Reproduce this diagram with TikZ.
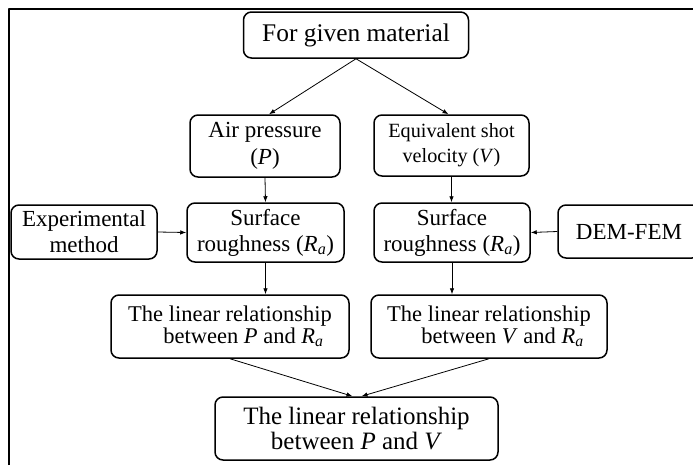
\documentclass[tikz,border=0pt]{standalone}
\usepackage{fontspec}
\setmainfont{Liberation Serif}
\usetikzlibrary{arrows.meta}

\newcommand{\fsz}[2]{\fontsize{#1}{#2}\selectfont}
\newcommand{\Ra}{\textit{R}\textsubscript{\textit{a}}}

\begin{document}
\begin{tikzpicture}[x=1pt,y=-1pt,line join=round,
  box/.style={draw,rounded corners=8pt,line width=1.5pt,align=center,inner sep=0pt},
  arr/.style={-{Latex[length=6pt,width=4.5pt]},line width=0.8pt}]

\useasboundingbox (0,0) rectangle (693,469);
\clip (0,0) rectangle (693,469);

%% ---------------- outer frame (only top and left edges show) ----------------
\draw[line width=1.8pt] (9,465) -- (9,9) -- (700,9);

%% ---------------- boxes ----------------
\node[box,minimum width=225pt,minimum height=46pt,font=\fsz{25.4}{28}]
  (mat) at (356,35) {For given material};

\node[box,minimum width=150pt,minimum height=62pt,font=\fsz{23}{27}]
  (press) at (265,146) {Air pressure\\(\textit{P})};
\node[box,minimum width=155pt,minimum height=61pt,font=\fsz{20.2}{25}]
  (vel) at (451.5,145.5) {Equivalent shot\\velocity (\textit{V})};

\node[box,minimum width=146pt,minimum height=54pt,font=\fsz{23}{26}]
  (expt) at (84,232) {Experimental\\method};
\node[box,minimum width=157pt,minimum height=59pt,font=\fsz{23}{26}]
  (roughL) at (265.5,232.5) {Surface\\roughness (\Ra)};
\node[box,minimum width=156pt,minimum height=59pt,font=\fsz{23}{26}]
  (roughR) at (452,232.5) {Surface\\roughness (\Ra)};
\node[box,minimum width=142pt,minimum height=53pt,font=\fsz{23}{26}]
  (dem) at (629,231.5) {DEM-FEM};

\node[box,minimum width=238pt,minimum height=63pt,font=\fsz{22.5}{22}]
  (linL) at (230,326.5) {The linear relationship\\\hspace*{1.2em}between \textit{P} and \Ra};
\node[box,minimum width=236pt,minimum height=63pt,font=\fsz{22.5}{22}]
  (linR) at (489,326.5) {The linear relationship\\\hspace*{1.2em}between \textit{V} and \Ra};

\node[box,minimum width=283pt,minimum height=63pt,font=\fsz{25}{25}]
  (final) at (356.5,428.5) {The linear relationship\\between \textit{P} and \textit{V}};

%% ---------------- connectors ----------------
\draw[arr] (mat.south) -- ([xshift=4pt]press.north);
\draw[arr] (mat.south) -- ([xshift=-3pt]vel.north);
\draw[arr] (press.south) -- (roughL.north);
\draw[arr] (vel.south) -- (vel.south |- roughR.north);
\draw[arr] (expt.east) -- (roughL.west);
\draw[arr] (dem.west) -- (roughR.east);
\draw[arr] (roughL.south) -- (roughL.south |- linL.north);
\draw[arr] (roughR.south) -- (roughR.south |- linR.north);
\draw[arr] (linL.south) -- ([xshift=-4pt]final.north);
\draw[arr] (linR.south) -- ([xshift=5pt]final.north);

\end{tikzpicture}
\end{document}
